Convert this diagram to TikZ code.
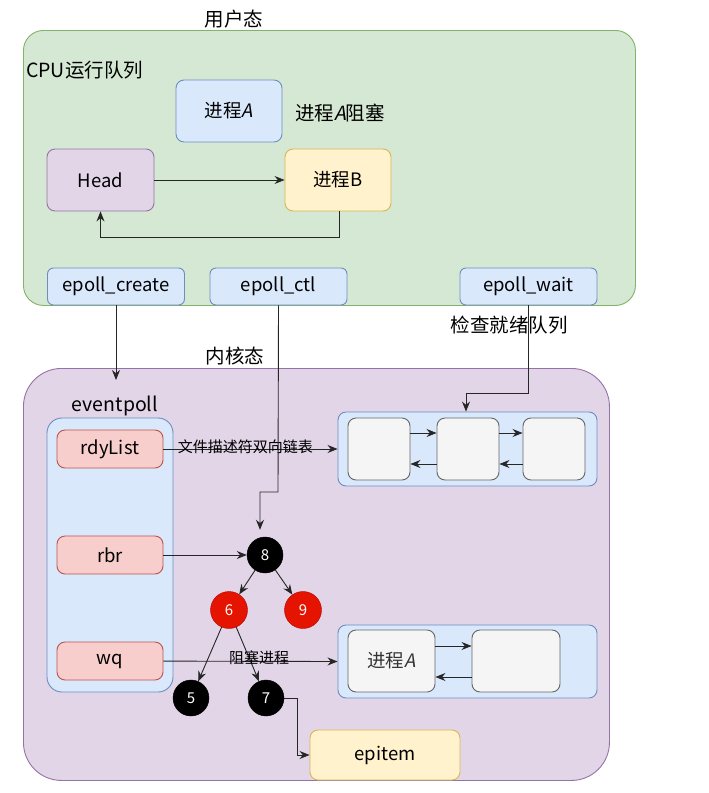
\documentclass[tikz,border=0pt]{standalone}
\usepackage{fontspec}
\setmainfont{Noto Sans CJK SC}
\newfontfamily\slantA[FakeSlant=0.2]{Noto Sans CJK SC}
\newcommand{\itA}{{\slantA A}}
\usetikzlibrary{arrows.meta}
\definecolor{gfill}{HTML}{D5E8D4}\definecolor{gline}{HTML}{82B366}
\definecolor{bfill}{HTML}{DAE8FC}\definecolor{bline}{HTML}{6C8EBF}
\definecolor{pfill}{HTML}{E1D5E7}\definecolor{pline}{HTML}{9673A6}
\definecolor{yfill}{HTML}{FFF2CC}\definecolor{yline}{HTML}{D6B656}
\definecolor{rfill}{HTML}{F8CECC}\definecolor{rline}{HTML}{B85450}
\definecolor{wfill}{HTML}{F5F5F5}\definecolor{wline}{HTML}{666666}
\definecolor{redn}{HTML}{E51400}\definecolor{redl}{HTML}{B20000}
\begin{document}
\begin{tikzpicture}[x=1pt,y=-1pt,
  box/.style={draw, rounded corners=8pt, line width=0.9pt, inner sep=0pt, font=\fontsize{18.5}{20}\selectfont},
  bluebox/.style={box, fill=bfill, draw=bline},
  redbox/.style={box, fill=rfill, draw=rline, minimum width=106pt, minimum height=38pt},
  greybox/.style={box, fill=wfill, draw=wline, text=black!80},
  callbox/.style={bluebox, minimum width=137pt, minimum height=37pt, rounded corners=6pt},
  blk/.style={circle, fill=black, draw=black, minimum size=36pt, inner sep=0pt, text=white, font=\fontsize{15}{17}\selectfont},
  rdn/.style={circle, fill=redn, draw=redl, minimum size=37pt, inner sep=0pt, text=white, font=\fontsize{15}{17}\selectfont},
  arr/.style={-{Stealth[length=10pt,width=8pt]}, line width=0.9pt, draw=black!85},
  lbl/.style={font=\fontsize{19.5}{21}\selectfont, inner sep=0pt},
  small/.style={font=\fontsize{15}{16}\selectfont, inner sep=0pt}
]
\useasboundingbox (0,0) rectangle (709,793);
% containers
\node[draw=gline, fill=gfill, line width=0.9pt, rounded corners=20pt, minimum width=612pt, minimum height=275pt, anchor=north west] (user) at (23,30) {};
\node[draw=pline, fill=pfill, line width=0.9pt, rounded corners=38pt, minimum width=586pt, minimum height=412pt, anchor=north west] (kernel) at (23,368) {};
\node[lbl] (userlbl) at (234,19) {用户态};
\node[lbl, anchor=west] (cpulbl) at (26,70) {CPU运行队列};
\node[lbl] (kernlbl) at (235,356) {内核态};
% user area
\node[bluebox, minimum width=106pt, minimum height=62pt] (pA) at (229,111) {进程\itA};
\node[lbl] (pAblk) at (340,113) {进程\itA 阻塞};
\node[box, fill=pfill, draw=pline, minimum width=107pt, minimum height=62pt] (head) at (100.5,180) {Head};
\node[box, fill=yfill, draw=yline, minimum width=106pt, minimum height=62pt] (pB) at (338,180) {进程B};
\draw[arr] (head) -- (pB);
\coordinate (c1) at (339,237);
\draw[arr] (pB.south -| c1) -- (c1) -| (head.south);
\node[callbox] (ecreate) at (116,286.5) {epoll\_create};
\node[callbox] (ectl) at (278.5,286.5) {epoll\_ctl};
\node[callbox] (ewait) at (528.5,286.5) {epoll\_wait};
\node[lbl] (chk) at (509,325) {检查就绪队列};
% kernel
\node[lbl] (evlbl) at (115,406) {eventpoll};
\node[bluebox, rounded corners=15pt, minimum width=126pt, minimum height=274pt] (ev) at (110,555) {};
\node[redbox] (rdy) at (110,449) {rdyList};
\node[redbox] (rbr) at (110,555) {rbr};
\node[redbox] (wq) at (110,661) {wq};
% ready list
\node[bluebox, minimum width=259pt, minimum height=74pt] (rl) at (467.5,449) {};
\node[greybox, minimum width=62pt, minimum height=62pt] (r1) at (379,449) {};
\node[greybox, minimum width=62pt, minimum height=62pt] (r2) at (468,449) {};
\node[greybox, minimum width=62pt, minimum height=62pt] (r3) at (554,449) {};
\draw[arr] ([yshift=16pt]r1.east) -- ([yshift=16pt]r2.west);
\draw[arr] ([yshift=-15pt]r2.west) -- ([yshift=-15pt]r1.east);
\draw[arr] ([yshift=16pt]r2.east) -- ([yshift=16pt]r3.west);
\draw[arr] ([yshift=-15pt]r3.west) -- ([yshift=-15pt]r2.east);
\draw[arr] (rdy) -- (rl.west) node[small, pos=0.47, above=-5pt] {文件描述符双向链表};
\coordinate (w1) at (528,393);
\draw[arr] (ewait.south -| w1) -- (w1) -| (rl.north -| 466,0);
% wait queue
\node[bluebox, minimum width=259pt, minimum height=73pt] (wl) at (467.5,661.5) {};
\node[greybox, minimum width=87pt, minimum height=62pt] (wA) at (391.5,661) {进程\itA};
\node[greybox, minimum width=88pt, minimum height=62pt] (wB) at (516,661) {};
\draw[arr] ([yshift=15pt]wA.east) -- ([yshift=15pt]wB.west);
\draw[arr] ([yshift=-16pt]wB.west) -- ([yshift=-16pt]wA.east);
% tree
\node[blk] (n8) at (265,555) {8};
\node[rdn] (n6) at (229,610) {6};
\node[rdn] (n9) at (303,610) {9};
\node[blk] (n5) at (191,698) {5};
\node[blk] (n7) at (266,698) {7};
\draw[arr] (n8) -- (n6);
\draw[arr] (n8) -- (n9);
\draw[arr] (n6) -- (n5);
\draw[arr] (n6) -- (n7);
\draw[arr] (rbr) -- (n8);
\draw[arr] (wq) -- (wl.west) node[small, pos=0.55, above=-4pt] {阻塞进程};
\coordinate (t1) at (278,492);
\coordinate (t2) at (260,492);
\draw[arr] (ectl.south) -- (t1) -- (t2) -- ([yshift=7pt]n8.north -| t2);
\draw[arr] (ecreate.south) -- ([yshift=-12pt]kernel.north -| ecreate.south);
% epitem
\node[box, fill=yfill, draw=yline, minimum width=150pt, minimum height=50pt] (epi) at (385,755) {epitem};
\coordinate (e1) at (297,698);
\draw[arr] (n7.east) -- (e1) |- (epi.west);
\end{tikzpicture}
\end{document}
